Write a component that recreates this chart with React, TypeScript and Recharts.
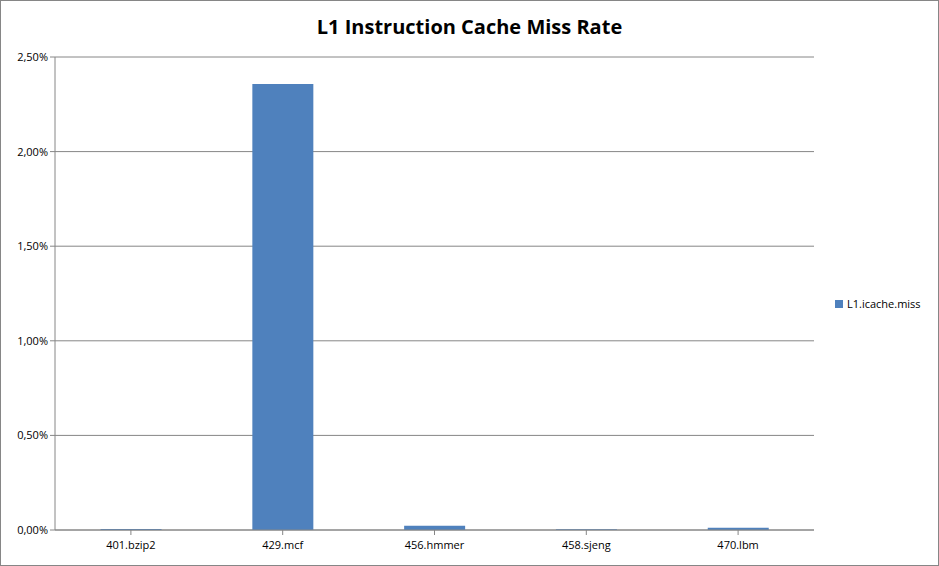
import React from 'react';
import { BarChart, Bar, XAxis, YAxis, CartesianGrid } from 'recharts';

const categories = ['401.bzip2', '429.mcf', '456.hmmer', '458.sjeng', '470.lbm'];
const missRate = [0.005, 2.357, 0.023, 0.004, 0.012];
const yTicks = [0, 0.5, 1, 1.5, 2, 2.5];
const seriesName = 'L1.icache.miss';

const data = categories.map((c, i) => ({ name: c, v: missRate[i] }));
const font = 'Open Sans, DejaVu Sans, sans-serif';

export default function App() {
  return (
    <div style={{ position: 'absolute', left: 0, top: 0, width: 939, height: 566, background: '#fff', fontFamily: font }}>
      <div style={{ position: 'absolute', left: 0, top: 0, width: 937, height: 564, border: '1px solid #868686' }} />
      <div style={{ position: 'absolute', left: 0, width: 939, top: 13, textAlign: 'center', fontSize: 20, fontWeight: 'bold', color: '#000' }}>
        L1 Instruction Cache Miss Rate
      </div>
      <BarChart width={939} height={566} data={data} margin={{ top: 57, right: 125, bottom: 6, left: 0 }} barCategoryGap="30%">
        <CartesianGrid vertical={false} stroke="#868686" />
        <XAxis dataKey="name" height={30} stroke="#868686" tick={{ fill: '#000', fontSize: 11, fontFamily: font }} tickLine={{ stroke: '#868686' }} tickSize={5} tickMargin={6} />
        <YAxis width={55} domain={[0, 2.5]} ticks={yTicks} stroke="#868686" tickSize={5}
          tick={{ fill: '#000', fontSize: 11, fontFamily: font }}
          tickFormatter={(v: number) => v.toFixed(2).replace('.', ',') + '%'} />
        <Bar dataKey="v" fill="#4f81bd" isAnimationActive={false} />
      </BarChart>
      <div style={{ position: 'absolute', left: 835, top: 296, fontSize: 11, color: '#000', display: 'flex', alignItems: 'center' }}>
        <span style={{ display: 'inline-block', width: 8, height: 8, background: '#4f81bd', marginRight: 4 }} />
        {seriesName}
      </div>
    </div>
  );
}
